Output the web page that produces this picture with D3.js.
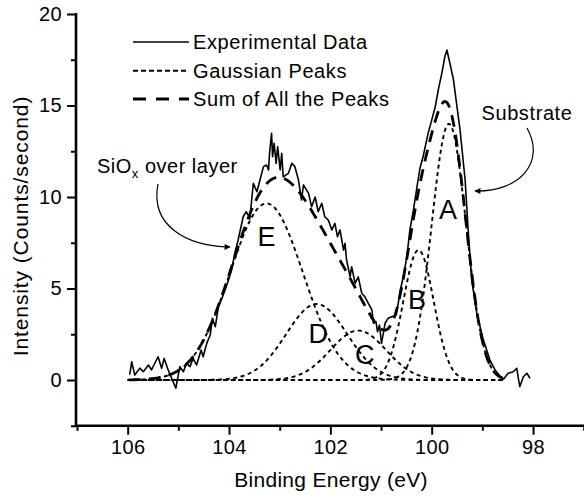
<!DOCTYPE html>
<html><head><meta charset="utf-8">
<script src="https://cdn.jsdelivr.net/npm/d3@7"></script>
<style>
body{margin:0;background:#fff}
svg{display:block}
text{font-family:"Liberation Sans",Arial,Helvetica,sans-serif;fill:#000}
</style>
</head><body>
<svg id="chart" width="584" height="498"></svg>
<script>
// ---- data ----
const energies = [105.96,105.92,105.86,105.76,105.69,105.59,105.53,105.40,105.33,105.28,105.20,105.05,104.97,104.90,104.84,104.77,104.71,104.64,104.55,104.51,104.44,104.37,104.33,104.27,104.21,104.14,104.08,104.01,103.95,103.88,103.82,103.72,103.66,103.62,103.59,103.52,103.45,103.32,103.26,103.22,103.20,103.16,103.14,103.11,103.07,103.04,102.99,102.96,102.93,102.83,102.76,102.70,102.63,102.57,102.53,102.43,102.37,102.30,102.24,102.17,102.11,102.04,101.97,101.91,101.86,101.81,101.74,101.71,101.68,101.61,101.58,101.51,101.45,101.38,101.32,101.25,101.18,101.15,101.10,101.07,101.03,100.99,100.92,100.86,100.79,100.70,100.66,100.62,100.56,100.49,100.43,100.36,100.29,100.23,100.17,100.07,100.00,99.93,99.87,99.80,99.74,99.70,99.64,99.57,99.44,99.34,99.28,99.21,99.11,98.98,98.85,98.75,98.65,98.58,98.49,98.39,98.32,98.29,98.26,98.19,98.12,98.06];
const counts = [0.30,1.00,0.27,0.65,0.45,0.82,0.55,1.27,0.64,1.18,0.55,-0.45,0.73,0.45,0.91,0.73,1.18,0.82,1.64,1.27,2.00,2.46,3.37,2.91,4.00,4.46,4.90,5.46,6.00,7.00,7.65,8.92,9.20,9.00,8.80,10.75,10.29,11.66,11.75,11.48,12.39,13.48,12.20,12.93,11.84,12.75,11.48,12.39,11.10,11.29,11.84,11.66,10.93,9.84,10.66,10.20,9.47,10.00,9.20,9.66,8.92,8.74,8.20,8.56,7.83,8.20,7.10,7.47,6.56,5.64,6.19,5.28,5.64,4.74,4.55,4.19,3.83,3.10,3.19,2.64,3.00,2.00,3.10,3.37,3.46,3.55,4.19,4.92,5.64,6.74,8.20,9.29,10.56,11.60,12.20,13.48,14.20,14.93,15.85,16.76,17.67,18.03,17.30,16.40,13.66,10.93,8.20,5.46,3.64,2.19,1.09,0.55,0.20,0.05,0.37,0.45,0.64,0.09,-0.36,0.18,0.37,0.09];

const peakLabels  = ["A", "B", "C", "D", "E"];
const peakCenters = [99.66, 100.26, 101.45, 102.27, 103.26];
const peakHeights = [14.0, 7.1, 2.7, 4.15, 9.65];
const peakWidths  = [0.34, 0.30, 0.55, 0.60, 0.72];

const xMajorTicks = [106, 104, 102, 100, 98];
const xMinorTicks = [107, 105, 103, 101, 99, 97];
const yMajorTicks = [0, 5, 10, 15, 20];
const yMinorTicks = [-2.5, 2.5, 7.5, 12.5, 17.5];

const legendLabels = ["Experimental Data", "Gaussian Peaks", "Sum of All the Peaks"];
const xTitle = "Binding Energy (eV)";
const yTitle = "Intensity (Counts/second)";

// ---- layout ----
const svg = d3.select("#chart");
const x = d3.scaleLinear().domain([107, 97]).range([77, 583.7]);
const y = d3.scaleLinear().domain([-2.5, 20]).range([425.75, 14]);
const fitGrid = d3.range(98.6, 106.0001, 0.02);

function gauss(i, e) {
  const d = e - peakCenters[i];
  return peakHeights[i] * Math.exp(-d * d / (2 * peakWidths[i] * peakWidths[i]));
}

const line = d3.line().x(d => x(d[0])).y(d => y(d[1]));

// gaussian peaks (dotted)
peakLabels.forEach((lab, i) => {
  svg.append("path")
    .datum(fitGrid.map(e => [e, gauss(i, e)]))
    .attr("d", line)
    .attr("fill", "none").attr("stroke", "#000")
    .attr("stroke-width", 1.9).attr("stroke-dasharray", "4,3.5");
});

// experimental data (solid)
svg.append("path")
  .datum(energies.map((e, i) => [e, counts[i]]))
  .attr("d", line)
  .attr("fill", "none").attr("stroke", "#000")
  .attr("stroke-width", 1.6).attr("stroke-linejoin", "round");

// sum of peaks (long dash)
svg.append("path")
  .datum(fitGrid.map(e => [e, d3.sum(peakLabels, (l, i) => gauss(i, e))]))
  .attr("d", line)
  .attr("fill", "none").attr("stroke", "#000")
  .attr("stroke-width", 2.8).attr("stroke-dasharray", "12,8");

// peak letters
const letterY = [8.8, 3.9, 0.9, 2.0, 7.3];
const letterX = [99.68, 100.29, 101.32, 102.24, 103.26];
peakLabels.forEach((lab, i) => {
  svg.append("text").attr("x", x(letterX[i])).attr("y", y(letterY[i]))
    .attr("text-anchor", "middle").attr("font-size", 27).text(lab);
});

// axes
const axisG = svg.append("g");
axisG.append("line").attr("x1", 76).attr("x2", 76).attr("y1", y(20) - 1).attr("y2", y(-2.5) + 1.3)
  .attr("stroke", "#000").attr("stroke-width", 2.6);
axisG.append("line").attr("x1", 76).attr("x2", 584).attr("y1", y(-2.5)).attr("y2", y(-2.5))
  .attr("stroke", "#000").attr("stroke-width", 2.6);

const xAxisMajor = d3.axisBottom(x).tickValues(xMajorTicks).tickSize(9).tickPadding(5).tickFormat(d3.format("d"));
const xAxisMinor = d3.axisBottom(x).tickValues(xMinorTicks).tickSize(5).tickFormat("");
const yAxisMajor = d3.axisLeft(y).tickValues(yMajorTicks).tickSize(9).tickPadding(5).tickFormat(d3.format("d"));
const yAxisMinor = d3.axisLeft(y).tickValues(yMinorTicks).tickSize(5).tickFormat("");

function styleAxis(g) {
  g.select(".domain").remove();
  g.selectAll(".tick line").attr("stroke", "#000").attr("stroke-width", 2);
  g.selectAll(".tick text").attr("font-size", 20).attr("font-family", '"Liberation Sans",Arial,sans-serif')
    .attr("fill", "#000").attr("letter-spacing", 0.4);
}
svg.append("g").attr("transform", `translate(0,${y(-2.5)})`).call(xAxisMajor).call(styleAxis);
svg.append("g").attr("transform", `translate(0,${y(-2.5)})`).call(xAxisMinor).call(styleAxis);
svg.append("g").attr("transform", `translate(76,0)`).call(yAxisMajor).call(styleAxis);
svg.append("g").attr("transform", `translate(76,0)`).call(yAxisMinor).call(styleAxis);

// axis titles
svg.append("text").attr("x", 331).attr("y", 487).attr("text-anchor", "middle")
  .attr("font-size", 21).attr("letter-spacing", 0.3).text(xTitle);
svg.append("text").attr("transform", "translate(28,226) rotate(-90)").attr("text-anchor", "middle")
  .attr("font-size", 21).attr("letter-spacing", 0.9).text(yTitle);

// legend
const legY = [42, 70.7, 99];
const legStyles = [
  {w: 1.5, dash: null},
  {w: 1.9, dash: "5,3"},
  {w: 2.8, dash: "13,10"}
];
legendLabels.forEach((lab, i) => {
  const l = svg.append("line").attr("x1", 133).attr("x2", 189).attr("y1", legY[i]).attr("y2", legY[i])
    .attr("stroke", "#000").attr("stroke-width", legStyles[i].w);
  if (legStyles[i].dash) l.attr("stroke-dasharray", legStyles[i].dash);
  svg.append("text").attr("x", 193).attr("y", legY[i] + 7).attr("font-size", 20)
    .attr("letter-spacing", 0.6).text(lab);
});

// annotations
const sio = svg.append("text").attr("x", 97).attr("y", 173).attr("font-size", 20).attr("letter-spacing", 0.5);
sio.append("tspan").text("SiO");
sio.append("tspan").attr("font-size", 13).attr("dy", 5).text("x");
sio.append("tspan").attr("dy", -5).text(" over layer");

svg.append("text").attr("x", 527).attr("y", 120).attr("text-anchor", "middle").attr("font-size", 20)
  .attr("letter-spacing", 0.6).text("Substrate");

svg.append("defs").append("marker").attr("id", "ah").attr("viewBox", "0 0 10 10")
  .attr("refX", 9).attr("refY", 5).attr("markerWidth", 9).attr("markerHeight", 6)
  .attr("markerUnits", "userSpaceOnUse").attr("orient", "auto")
  .append("path").attr("d", "M0,0 L10,5 L0,10 z").attr("fill", "#000");

svg.append("path").attr("d", "M158,184 C150,225 185,246 230,247")
  .attr("fill", "none").attr("stroke", "#000").attr("stroke-width", 1.2).attr("marker-end", "url(#ah)");
svg.append("path").attr("d", "M527,128 C546,162 520,192 475,191")
  .attr("fill", "none").attr("stroke", "#000").attr("stroke-width", 1.2).attr("marker-end", "url(#ah)");
</script>
</body></html>
